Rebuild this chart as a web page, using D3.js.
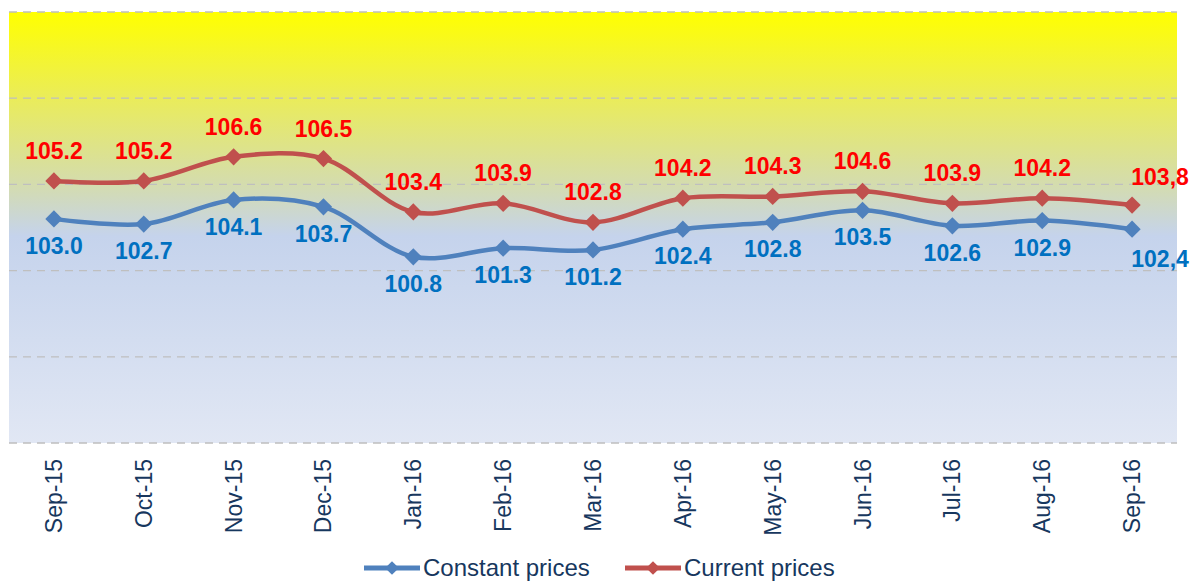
<!DOCTYPE html>
<html>
<head>
<meta charset="utf-8">
<script src="https://cdn.jsdelivr.net/npm/d3@7"></script>
<style>
  body { margin: 0; background: #fff; }
  svg { display: block; font-family: Arial, "Liberation Sans", sans-serif; }
</style>
</head>
<body>
<div id="chart"></div>
<script>
// chart data
var months = ["Sep-15", "Oct-15", "Nov-15", "Dec-15", "Jan-16", "Feb-16", "Mar-16",
              "Apr-16", "May-16", "Jun-16", "Jul-16", "Aug-16", "Sep-16"];
var constantPrices = [103.0, 102.7, 104.1, 103.7, 100.8, 101.3, 101.2, 102.4, 102.8, 103.5, 102.6, 102.9, 102.4];
var currentPrices  = [105.2, 105.2, 106.6, 106.5, 103.4, 103.9, 102.8, 104.2, 104.3, 104.6, 103.9, 104.2, 103.8];
var constantLabels = ["103.0", "102.7", "104.1", "103.7", "100.8", "101.3", "101.2", "102.4", "102.8", "103.5", "102.6", "102.9", "102,4"];
var currentLabels  = ["105.2", "105.2", "106.6", "106.5", "103.4", "103.9", "102.8", "104.2", "104.3", "104.6", "103.9", "104.2", "103,8"];
var yTicks = [90, 95, 100, 105, 110, 115];

var W = 1193, H = 581;
var plot = {left: 9, right: 1177, top: 12, bottom: 443};

var svg = d3.select("#chart").append("svg")
  .attr("width", W)
  .attr("height", H);

var defs = svg.append("defs");
var grad = defs.append("linearGradient")
  .attr("id", "bg")
  .attr("x1", 0).attr("y1", 0).attr("x2", 0).attr("y2", 1);
[[0, "#ffff00"], [0.2, "#eaec5a"], [0.4, "#d4dcae"], [0.52, "#c5d3ec"], [1, "#e1e7f4"]]
  .forEach(function(s) {
    grad.append("stop").attr("offset", s[0]).attr("stop-color", s[1]);
  });

var x = d3.scaleBand()
  .domain(months)
  .range([plot.left, plot.right]);

var y = d3.scaleLinear()
  .domain([90, 115])
  .range([plot.bottom, plot.top]);

function cx(i) { return x(months[i]) + x.bandwidth() / 2; }

svg.append("rect")
  .attr("x", plot.left)
  .attr("y", plot.top)
  .attr("width", plot.right - plot.left)
  .attr("height", plot.bottom - plot.top)
  .attr("fill", "url(#bg)");

// dashed gridlines
svg.selectAll(".grid").data(yTicks).enter()
  .append("line")
  .attr("class", "grid")
  .attr("x1", plot.left)
  .attr("x2", plot.right)
  .attr("y1", function(d) { return y(d); })
  .attr("y2", function(d) { return y(d); })
  .style("stroke", "#bfbfbf")
  .style("stroke-width", 1.3)
  .style("stroke-dasharray", "8,6");

// x axis labels (rotated)
svg.selectAll(".xlab").data(months).enter()
  .append("text")
  .attr("class", "xlab")
  .attr("transform", function(d, i) { return "translate(" + (cx(i) + 8) + ",459) rotate(-90)"; })
  .attr("text-anchor", "end")
  .style("font-size", "23px")
  .style("fill", "#17375e")
  .text(function(d) { return d; });

var line = d3.line()
  .x(function(d, i) { return cx(i); })
  .y(function(d) { return y(d); })
  .curve(d3.curveCatmullRom.alpha(0.5));

var diamond = d3.symbol().type(d3.symbolDiamond2).size(190);

var last = months.length - 1;
var series = [
  {name: "Constant prices", values: constantPrices, labels: constantLabels, color: "#4f81bd", text: "#0070c0", dy: 35, lastDy: 38},
  {name: "Current prices", values: currentPrices, labels: currentLabels, color: "#c0504d", text: "#ff0000", dy: -22, lastDy: -20}
];

series.forEach(function(s) {
  svg.append("path")
    .datum(s.values)
    .attr("d", line)
    .attr("fill", "none")
    .attr("stroke", s.color)
    .attr("stroke-width", 4.5);

  svg.selectAll(null).data(s.values).enter()
    .append("path")
    .attr("d", diamond)
    .attr("transform", function(d, i) { return "translate(" + cx(i) + "," + y(d) + ")"; })
    .attr("fill", s.color);

  svg.selectAll(null).data(s.values).enter()
    .append("text")
    .attr("x", function(d, i) { return cx(i) + (i === last ? 28 : 0); })
    .attr("y", function(d, i) { return y(d) + (i === last ? s.lastDy : s.dy); })
    .attr("text-anchor", "middle")
    .style("font-size", "23px")
    .style("font-weight", "bold")
    .style("fill", s.text)
    .text(function(d, i) { return s.labels[i]; });
});

// legend
var legend = svg.append("g").attr("transform", "translate(364,568)");
series.forEach(function(s, k) {
  var g = legend.append("g").attr("transform", "translate(" + (k === 0 ? 0 : 261) + ",0)");
  g.append("line")
    .attr("x1", 0).attr("x2", 56)
    .attr("y1", 0).attr("y2", 0)
    .attr("stroke", s.color)
    .attr("stroke-width", 5);
  g.append("path")
    .attr("d", d3.symbol().type(d3.symbolDiamond2).size(120))
    .attr("transform", "translate(28,0)")
    .attr("fill", s.color);
  g.append("text")
    .attr("x", 59)
    .attr("y", 8)
    .style("font-size", "24px")
    .style("fill", "#17375e")
    .text(s.name);
});
</script>
</body>
</html>
